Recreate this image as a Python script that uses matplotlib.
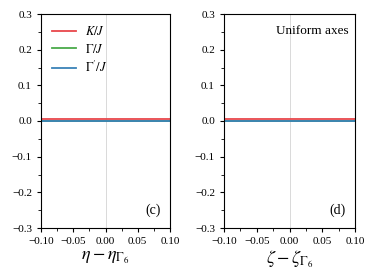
import numpy as np
import matplotlib
matplotlib.use("Agg")
import matplotlib.pyplot as plt
from matplotlib.ticker import MultipleLocator

plt.rcParams["font.family"] = "serif"
plt.rcParams["font.serif"] = ["Liberation Serif", "DejaVu Serif"]
plt.rcParams["mathtext.fontset"] = "stix"

# datos
eta = [-0.10, -0.05, 0.00, 0.05, 0.10]
K_eta = [0.005, 0.005, 0.005, 0.005, 0.005]
G_eta = [0.0, 0.0, 0.0, 0.0, 0.0]
Gp_eta = [0.0, 0.0, 0.0, 0.0, 0.0]

zeta = [-0.10, -0.05, 0.00, 0.05, 0.10]
K_zeta = [0.005, 0.005, 0.005, 0.005, 0.005]
G_zeta = [0.0, 0.0, 0.0, 0.0, 0.0]
Gp_zeta = [0.0, 0.0, 0.0, 0.0, 0.0]

fig = plt.figure(figsize=(3.74, 2.79), dpi=100)
ax1 = fig.add_axes([41/374, 1 - 228/279, 129/374, 214/279])
ax2 = fig.add_axes([224/374, 1 - 228/279, 131/374, 214/279])

panels = [(ax1, eta, K_eta, G_eta, Gp_eta, r"$\eta-\eta_{\Gamma_6}$", "(c)"),
          (ax2, zeta, K_zeta, G_zeta, Gp_zeta, r"$\zeta-\zeta_{\Gamma_6}$", "(d)")]

for ax, x, K, G, Gp, xlab, tag in panels:
    ax.axvline(0, color="lightgray", lw=0.6, zorder=0)
    ax.plot(x, K, color="#e8474b", lw=1.3, label=r"$K/J$")
    ax.plot(x, G, color="#4aaa4a", lw=1.3, label=r"$\Gamma/J$")
    ax.plot(x, Gp, color="#3a82b8", lw=1.3, label=r"$\Gamma^{\prime}/J$")
    ax.set_xlim(-0.1, 0.1)
    ax.set_ylim(-0.3, 0.3)
    ax.xaxis.set_major_locator(MultipleLocator(0.05))
    ax.xaxis.set_minor_locator(MultipleLocator(0.025))
    ax.yaxis.set_major_locator(MultipleLocator(0.1))
    ax.yaxis.set_minor_locator(MultipleLocator(0.05))
    ax.xaxis.set_major_formatter(plt.FuncFormatter(lambda v, p: f"{v:.2f}".replace("-", "\u2212")))
    ax.yaxis.set_major_formatter(plt.FuncFormatter(lambda v, p: f"{v:.1f}".replace("-", "\u2212")))
    ax.tick_params(labelsize=8, length=3, width=0.8)
    ax.tick_params(which="minor", length=2, width=0.6)
    ax.set_xlabel(xlab, fontsize=13, labelpad=2)
    ax.text(0.93, 0.05, tag, transform=ax.transAxes, ha="right", va="bottom", fontsize=10)

ax1.legend(loc="upper left", frameon=False, fontsize=9, handlelength=1.9,
           labelspacing=0.35, handletextpad=0.7, bbox_to_anchor=(0.0, 1.0))
ax2.text(0.95, 0.95, "Uniform axes", transform=ax2.transAxes, ha="right", va="top", fontsize=9.5)

fig.savefig("out.png", dpi=100)
